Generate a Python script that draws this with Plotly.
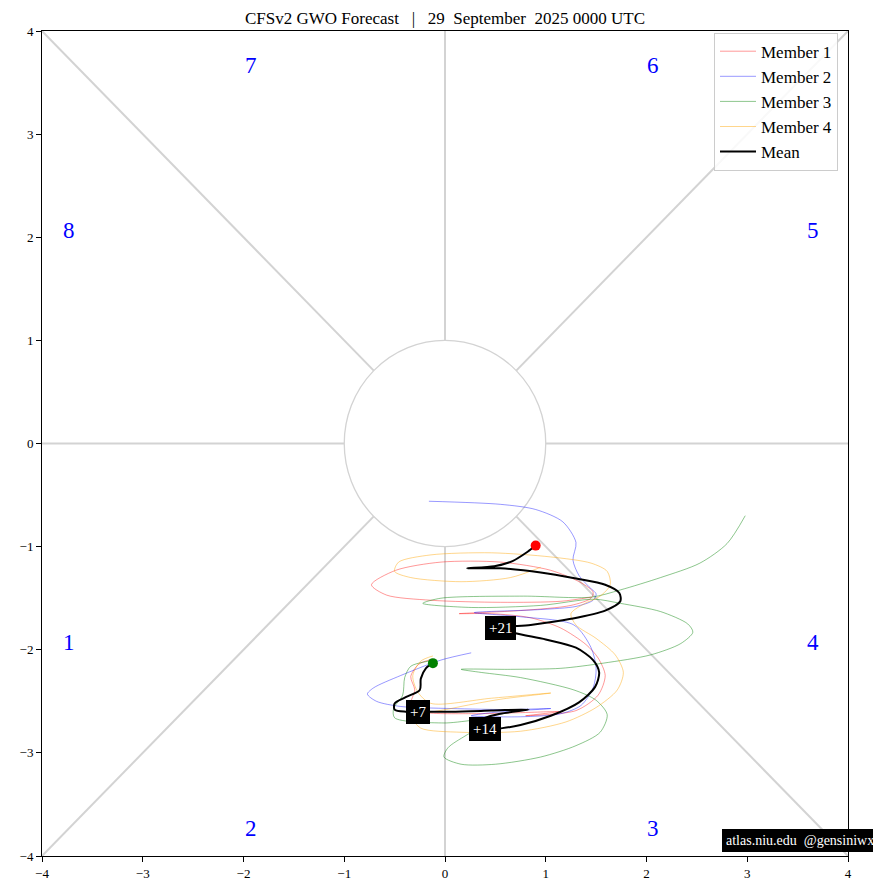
import plotly.graph_objects as go

# ---------------- data (GWO phase space) ----------------
mean_x = [-0.12, -0.19, -0.24, -0.25, -0.39, -0.50, -0.50, -0.39, -0.27, 0.06, 0.46, 0.83,
          0.55, 0.36, 0.40, 0.57, 0.75, 1.05, 1.33, 1.49, 1.53, 1.47, 1.30, 1.00, 0.70, 0.55,
          0.85, 1.25, 1.59, 1.74, 1.73, 1.59, 1.30, 0.95, 0.55, 0.22, 0.49, 0.67, 0.82, 0.90]
mean_y = [-2.13, -2.18, -2.28, -2.39, -2.46, -2.52, -2.58, -2.60, -2.60, -2.60, -2.59, -2.58,
          -2.62, -2.68, -2.77, -2.76, -2.73, -2.64, -2.51, -2.36, -2.22, -2.10, -1.98, -1.90,
          -1.84, -1.79, -1.76, -1.70, -1.62, -1.53, -1.45, -1.37, -1.31, -1.25, -1.21, -1.21,
          -1.19, -1.14, -1.05, -0.99]

m1_x = [-0.12, -0.26, -0.34, -0.30, -0.34, -0.24, 0.26, 0.75, 1.13, 0.80, 1.30, 1.52, 1.59,
        1.52, 1.40, 1.15, 0.85, 0.46, 0.14, 0.75, 1.25, 1.45, 1.47, 1.35, 1.05, 0.55, -0.04,
        -0.49, -0.73, -0.58, -0.14, 0.55, 1.15, 1.45]
m1_y = [-2.09, -2.14, -2.26, -2.39, -2.53, -2.60, -2.62, -2.61, -2.60, -2.64, -2.59, -2.44,
        -2.25, -2.08, -1.95, -1.79, -1.69, -1.65, -1.65, -1.62, -1.57, -1.50, -1.44, -1.35,
        -1.23, -1.15, -1.15, -1.23, -1.37, -1.47, -1.52, -1.54, -1.53, -1.49]

m2_x = [0.26, -0.04, -0.44, -0.71, -0.77, -0.68, -0.44, 0.06, 0.65, 1.05, 0.46, 0.26, 0.75,
        1.15, 1.35, 1.47, 1.50, 1.45, 1.28, 0.75, 0.29, 0.95, 1.30, 1.47, 1.50, 1.43, 1.33,
        1.27, 1.30, 1.17, 0.90, 0.55, -0.16]
m2_y = [-2.03, -2.10, -2.25, -2.37, -2.43, -2.50, -2.55, -2.57, -2.58, -2.57, -2.61, -2.64,
        -2.65, -2.62, -2.54, -2.37, -2.18, -1.98, -1.76, -1.68, -1.64, -1.61, -1.58, -1.52,
        -1.46, -1.39, -1.28, -1.13, -0.96, -0.76, -0.64, -0.59, -0.56]

m3_x = [-0.16, -0.34, -0.40, -0.42, -0.51, -0.50, -0.01, 0.50, 0.21, 0.03, -0.01, 0.16, 0.50,
        0.95, 1.30, 1.54, 1.61, 1.50, 1.28, 0.75, 0.36, 0.16, 0.65, 1.15, 1.57, 2.04, 2.34,
        2.46, 2.41, 2.14, 1.74, 1.48, 0.95, 0.26, -0.22, -0.04, 0.78, 1.45, 1.74, 2.14, 2.53,
        2.80, 2.98]
m3_y = [-2.11, -2.16, -2.27, -2.44, -2.57, -2.66, -2.71, -2.67, -2.83, -2.95, -3.04, -3.11,
        -3.11, -3.04, -2.93, -2.80, -2.63, -2.49, -2.39, -2.27, -2.22, -2.19, -2.19, -2.18,
        -2.13, -2.05, -1.94, -1.83, -1.75, -1.63, -1.55, -1.51, -1.57, -1.59, -1.55, -1.50,
        -1.48, -1.49, -1.42, -1.30, -1.16, -0.97, -0.70]

m4_x = [-0.12, -0.24, -0.32, -0.27, -0.14, 0.46, 1.05, 0.55, 0.06, -0.32, -0.24, 0.16, 0.75,
        1.20, 1.50, 1.71, 1.77, 1.69, 1.50, 1.30, 1.25, 1.37, 1.54, 1.64, 1.61, 1.45, 1.05,
        0.46, -0.14, -0.46, -0.50, -0.34, 0.16, 0.65, 0.95]
m4_y = [-2.06, -2.11, -2.25, -2.41, -2.52, -2.47, -2.42, -2.48, -2.57, -2.66, -2.76, -2.80,
        -2.79, -2.70, -2.56, -2.39, -2.22, -2.05, -1.89, -1.76, -1.65, -1.56, -1.48, -1.37,
        -1.24, -1.16, -1.10, -1.06, -1.08, -1.15, -1.24, -1.30, -1.34, -1.30, -1.20]

member_names = ["Member 1", "Member 2", "Member 3", "Member 4"]
member_colors = ["rgba(255,0,0,0.45)", "rgba(0,0,255,0.45)", "rgba(0,128,0,0.5)", "rgba(255,165,0,0.5)"]

day_labels = ["+7", "+14", "+21"]
day_x = [-0.27, 0.40, 0.55]
day_y = [-2.60, -2.77, -1.79]

phase_labels = ["1", "2", "3", "4", "5", "6", "7", "8"]
phase_x = [-3.73, -1.93, 2.06, 3.65, 3.65, 2.06, -1.93, -3.73]
phase_y = [-1.93, -3.73, -3.73, -1.93, 2.07, 3.67, 3.67, 2.07]

ticks = [-4, -3, -2, -1, 0, 1, 2, 3, 4]

FONT = "Liberation Serif"
GRAY = "#d3d3d3"
SP = "\u00a0"

fig = go.Figure()

# background phase-space guide lines
guide = [(-4, 0, -1, 0), (1, 0, 4, 0), (0, 1, 0, 4), (0, -1, 0, -4),
         (0.7071, 0.7071, 4, 4), (-0.7071, 0.7071, -4, 4),
         (0.7071, -0.7071, 4, -4), (-0.7071, -0.7071, -4, -4)]
for x0, y0, x1, y1 in guide:
    fig.add_shape(type="line", x0=x0, y0=y0, x1=x1, y1=y1, xref="x", yref="y",
                  line=dict(color=GRAY, width=2), layer="below")
fig.add_shape(type="circle", x0=-1, y0=-1, x1=1, y1=1, xref="x", yref="y",
              line=dict(color=GRAY, width=1.3), layer="below")

members = [(m1_x, m1_y), (m2_x, m2_y), (m3_x, m3_y), (m4_x, m4_y)]
for i, (mx, my) in enumerate(members):
    fig.add_trace(go.Scatter(x=mx, y=my, mode="lines", name=member_names[i],
                             line=dict(color=member_colors[i], width=0.9, shape="spline", smoothing=0.8),
                             legendgroup=member_names[i]))

fig.add_trace(go.Scatter(x=mean_x, y=mean_y, mode="lines", name="Mean",
                         line=dict(color="black", width=2, shape="spline", smoothing=0.8),
                         legendgroup="Mean"))

fig.add_trace(go.Scatter(x=[mean_x[0]], y=[mean_y[0]], mode="markers", showlegend=False,
                         marker=dict(color="green", size=10)))
fig.add_trace(go.Scatter(x=[mean_x[-1]], y=[mean_y[-1]], mode="markers", showlegend=False,
                         marker=dict(color="red", size=10)))

annotations = []
for t, x, y in zip(day_labels, day_x, day_y):
    annotations.append(dict(x=x, y=y, xref="x", yref="y", text=t, showarrow=False,
                            font=dict(family=FONT, size=15, color="white"),
                            bgcolor="black", bordercolor="black", borderpad=3))
for t, x, y in zip(phase_labels, phase_x, phase_y):
    annotations.append(dict(x=x, y=y, xref="x", yref="y", text=t, showarrow=False,
                            font=dict(family=FONT, size=23, color="blue")))
annotations.append(dict(x=1.037, y=0.019, xref="paper", yref="paper",
                        text="atlas.niu.edu" + SP * 2 + "@gensiniwx", showarrow=False,
                        xanchor="right", yanchor="middle",
                        font=dict(family=FONT, size=14, color="white"),
                        bgcolor="black", bordercolor="black", borderpad=3))

axis_common = dict(range=[-4, 4], tickvals=ticks, ticks="outside", ticklen=5, tickwidth=1,
                   tickcolor="black", showline=True, linecolor="black", linewidth=1, mirror=True,
                   showgrid=False, zeroline=False, tickfont=dict(family=FONT, size=13, color="black"))

title_text = ("CFSv2 GWO Forecast" + SP * 3 + "|" + SP * 3 + "29" + SP * 2 + "September"
              + SP * 2 + "2025 0000 UTC")

fig.update_layout(
    width=881, height=890,
    margin=dict(l=32, r=41, t=23, b=42),
    paper_bgcolor="white", plot_bgcolor="white",
    title=dict(text=title_text, xref="paper", x=0.5, xanchor="center",
               yref="container", y=0.9885, yanchor="middle",
               font=dict(family=FONT, size=17, color="black")),
    xaxis=axis_common, yaxis=axis_common,
    legend=dict(x=0.9876, xanchor="right", y=0.998, yanchor="top",
                bgcolor="rgba(255,255,255,0.85)", bordercolor="#cccccc", borderwidth=1,
                font=dict(family=FONT, size=17, color="black"), tracegroupgap=0,
                itemwidth=36),
    annotations=annotations,
    showlegend=True,
)

fig.write_html("out.html")
